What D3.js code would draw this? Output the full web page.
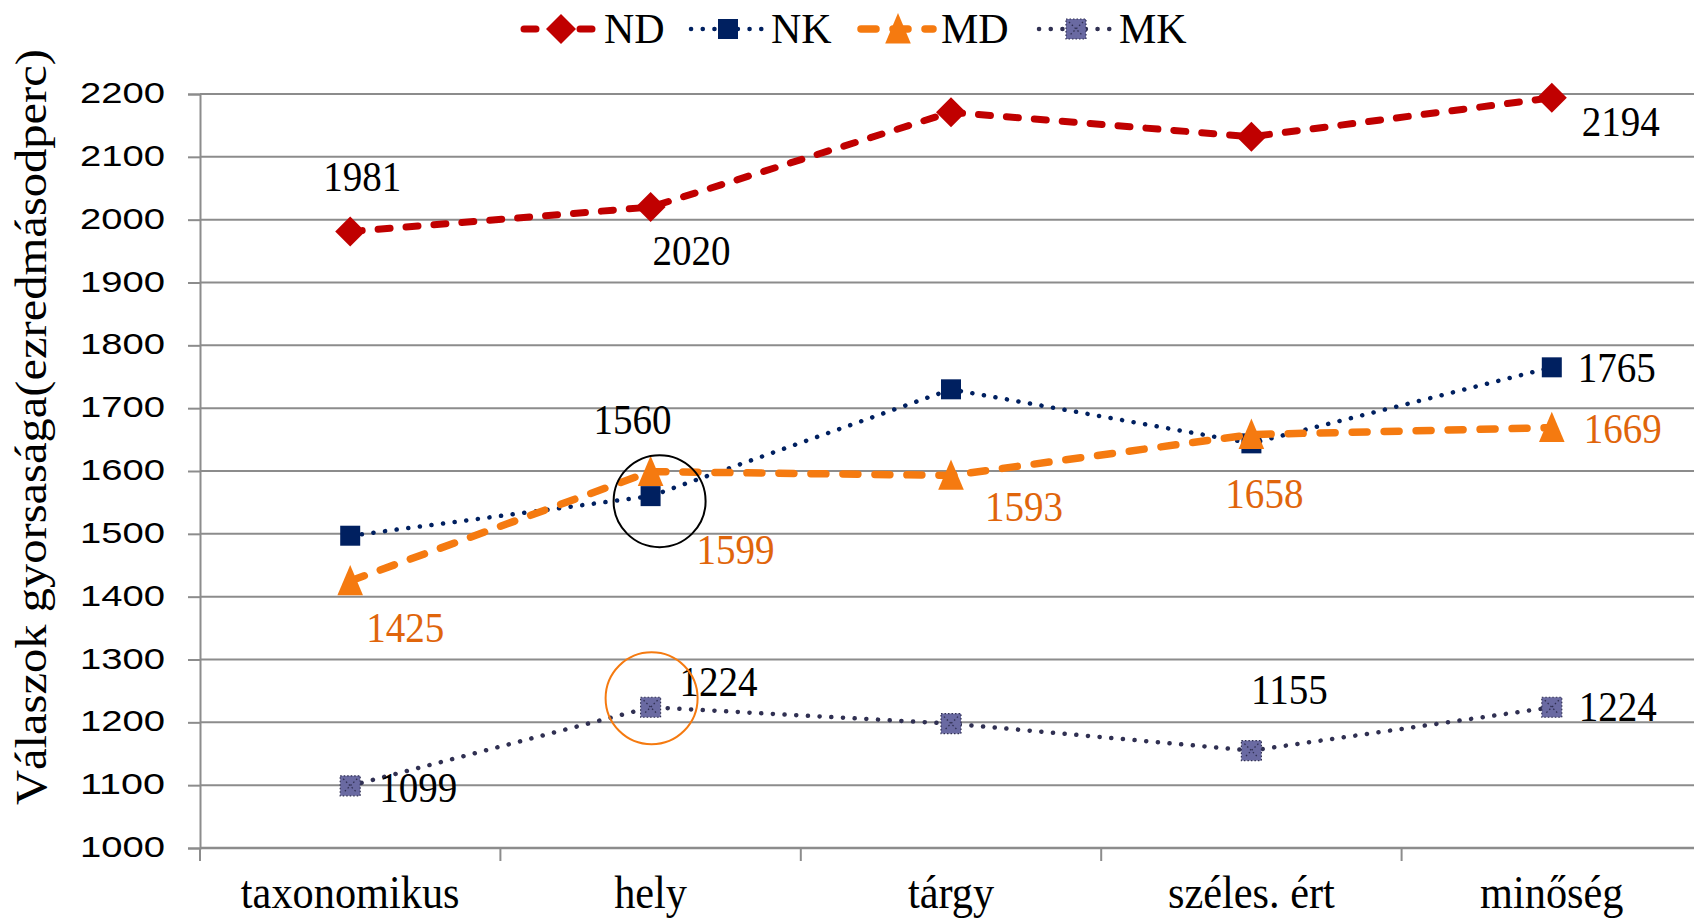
<!DOCTYPE html>
<html lang="hu">
<head>
<meta charset="UTF-8">
<script src="https://d3js.org/d3.v7.min.js"></script>
<title>Válaszok gyorsasága</title>
<style>
  body { margin: 0; background: #fff; }
  svg { display: block; }
  .tick-y { font-family: "Liberation Sans", Arial, sans-serif; font-size: 30px; }
  .serif { font-family: "Liberation Serif", "Times New Roman", serif; }
</style>
</head>
<body>
<svg width="1694" height="919"></svg>
<script>
// data
const categories = ["taxonomikus", "hely", "tárgy", "széles. ért", "minőség"];
const seriesNames = ["ND", "NK", "MD", "MK"];
const ndValues = [1981, 2020, 2171, 2132, 2194];
const nkValues = [1497, 1560, 1730, 1644, 1765];
const mdValues = [1425, 1599, 1593, 1658, 1669];
const mkValues = [1099, 1224, 1198, 1155, 1224];
const yTickLabels = ["1000","1100","1200","1300","1400","1500","1600","1700","1800","1900","2000","2100","2200"];
const yTitle = "Válaszok gyorsasága(ezredmásodperc)";

// which points carry a value label, and where it sits relative to the point
const labelOffsets = {
  ND: [[12, -55], [41, 44], null, null, [69, 24]],
  NK: [null, [-18, -76], null, null, [65, 1]],
  MD: [[55, 47], [85, 78], [73, 32], [13, 59], [71, 1]],
  MK: [[68, 2], [68, -25], null, [38, -61], [66, 0]]
};

const svg = d3.select("svg");
const W = 1694;
const margin = {top: 94, bottom: 71, left: 200};
const H = 919;

const x = d3.scaleBand().domain(categories).range([margin.left, 1702]).padding(0);
const cx = c => x(c) + x.bandwidth() / 2;
const y = d3.scaleLinear().domain([1000, 2200]).range([H - margin.bottom, margin.top]);

const gridColor = "#8c8c8c";

// squeeze serif text a little, the original font runs narrower
function condense(sel, k) {
  sel.each(function() {
    const len = this.getComputedTextLength();
    d3.select(this).attr("textLength", len * k).attr("lengthAdjust", "spacingAndGlyphs");
  });
}

// gridlines
svg.append("g").selectAll("line")
  .data(yTickLabels.slice(1))
  .enter().append("line")
  .attr("x1", margin.left).attr("x2", W)
  .attr("y1", d => y(+d)).attr("y2", d => y(+d))
  .attr("stroke", gridColor).attr("stroke-width", 2);

// y axis
const yAxis = svg.append("g")
  .attr("transform", `translate(${margin.left},0)`)
  .call(d3.axisLeft(y).tickValues(yTickLabels.map(Number)).tickSize(12).tickPadding(0).tickFormat(d3.format("d")));
yAxis.select(".domain").attr("stroke", gridColor).attr("stroke-width", 2);
yAxis.selectAll(".tick line").attr("stroke", gridColor).attr("stroke-width", 2);
yAxis.selectAll(".tick text").remove();
svg.append("g").selectAll("text")
  .data(yTickLabels)
  .enter().append("text")
  .attr("class", "tick-y")
  .attr("x", 165).attr("y", d => y(+d) + 9)
  .attr("text-anchor", "end")
  .attr("textLength", 85).attr("lengthAdjust", "spacingAndGlyphs")
  .attr("fill", "#000")
  .text(d => d);

// x axis
svg.append("line")
  .attr("x1", margin.left).attr("x2", W)
  .attr("y1", y(1000)).attr("y2", y(1000))
  .attr("stroke", gridColor).attr("stroke-width", 2.5);
const bounds = categories.map(c => x(c)).concat([x(categories[categories.length - 1]) + x.bandwidth()]);
svg.append("g").selectAll("line")
  .data(bounds)
  .enter().append("line")
  .attr("x1", d => d).attr("x2", d => d)
  .attr("y1", y(1000)).attr("y2", y(1000) + 13)
  .attr("stroke", gridColor).attr("stroke-width", 2);
svg.append("g").selectAll("text")
  .data(categories)
  .enter().append("text")
  .attr("class", "serif")
  .attr("x", d => cx(d)).attr("y", 908)
  .attr("text-anchor", "middle")
  .attr("font-size", 46)
  .text(d => d)
  .call(condense, 0.92);

// y title
svg.append("text")
  .attr("class", "serif")
  .attr("transform", "translate(46,427) rotate(-90)")
  .attr("text-anchor", "middle")
  .attr("font-size", 44)
  .attr("textLength", 756).attr("lengthAdjust", "spacingAndGlyphs")
  .text(yTitle);

// marker shapes
function diamond(s) { return `M0,${-s}L${s},0L0,${s}L${-s},0Z`; }
function square(s) { return `M${-s},${-s}H${s}V${s}H${-s}Z`; }
function triangle(s) { return `M0,${-s}L${s * 0.8},${s * 0.9}H${-s * 0.8}Z`; }

const styles = {
  ND: {color: "#c00000", width: 7, dash: "12 16", marker: "diamond", size: 15, labelColor: "#000"},
  NK: {color: "#002060", width: 4.5, dash: "0.1 11.6", marker: "square", size: 10, labelColor: "#000"},
  MD: {color: "#f57a10", width: 7.5, dash: "15 17", marker: "triangle", size: 16, labelColor: "#e0650b"},
  MK: {color: "#303052", width: 4.5, dash: "0.1 11.6", marker: "square", size: 10, labelColor: "#000", fill: "#6a6aa2"}
};
const valuesBy = {ND: ndValues, NK: nkValues, MD: mdValues, MK: mkValues};

function drawMarker(g, name, px, py) {
  const st = styles[name];
  const m = g.append("g").attr("transform", `translate(${px},${py})`);
  if (st.marker === "diamond") {
    m.append("path").attr("d", diamond(st.size)).attr("fill", st.color);
  } else if (st.marker === "triangle") {
    m.append("path").attr("d", triangle(st.size)).attr("fill", st.color);
  } else if (name === "MK") {
    m.append("path").attr("d", square(st.size)).attr("fill", st.fill)
      .attr("stroke", st.color).attr("stroke-width", 1.2).attr("stroke-dasharray", "1.5 2");
    m.append("path").attr("d", `M${-st.size + 3},${-st.size + 3}L${st.size - 3},${st.size - 3}M${st.size - 3},${-st.size + 3}L${-st.size + 3},${st.size - 3}`)
      .attr("stroke", st.color).attr("stroke-width", 1.3).attr("stroke-dasharray", "1.5 2.5");
  } else {
    m.append("path").attr("d", square(st.size)).attr("fill", st.color);
  }
}

const line = d3.line().x(d => cx(d.c)).y(d => y(d.v));

const plot = svg.append("g");
seriesNames.forEach(name => {
  const st = styles[name];
  const pts = categories.map((c, i) => ({c: c, v: valuesBy[name][i]}));
  const g = plot.append("g");
  g.append("path")
    .datum(pts)
    .attr("d", line)
    .attr("fill", "none")
    .attr("stroke", st.color)
    .attr("stroke-width", st.width)
    .attr("stroke-dasharray", st.dash)
    .attr("stroke-linecap", "round");
  pts.forEach(p => drawMarker(g, name, cx(p.c), y(p.v)));
});

// value labels
seriesNames.forEach(name => {
  const st = styles[name];
  categories.forEach((c, i) => {
    const off = labelOffsets[name][i];
    if (!off) return;
    const v = valuesBy[name][i];
    svg.append("text")
      .attr("class", "serif")
      .attr("x", cx(c) + off[0]).attr("y", y(v) + off[1])
      .attr("text-anchor", "middle")
      .attr("dominant-baseline", "central")
      .attr("font-size", 42)
      .attr("fill", st.labelColor)
      .text(v)
      .call(condense, 0.93);
  });
});

// highlight circles
svg.append("circle")
  .attr("cx", cx("hely") + 9).attr("cy", y(nkValues[1]) + 5).attr("r", 46)
  .attr("fill", "none").attr("stroke", "#000").attr("stroke-width", 2);
svg.append("circle")
  .attr("cx", cx("hely") + 1).attr("cy", y(mkValues[1]) - 9).attr("r", 46)
  .attr("fill", "none").attr("stroke", styles.MD.color).attr("stroke-width", 2);

// legend
const legendX = [524, 691, 861, 1039];
const legend = svg.append("g");
seriesNames.forEach((name, i) => {
  const st = styles[name];
  const x0 = legendX[i];
  const lg = legend.append("g");
  lg.append("line")
    .attr("x1", x0).attr("x2", x0 + 72).attr("y1", 29).attr("y2", 29)
    .attr("stroke", st.color).attr("stroke-width", st.width)
    .attr("stroke-dasharray", st.dash).attr("stroke-linecap", "round");
  drawMarker(lg, name, x0 + 37, 29);
  lg.append("text")
    .attr("class", "serif")
    .attr("x", x0 + 80).attr("y", 43)
    .attr("font-size", 42)
    .text(name);
});
</script>
</body>
</html>
